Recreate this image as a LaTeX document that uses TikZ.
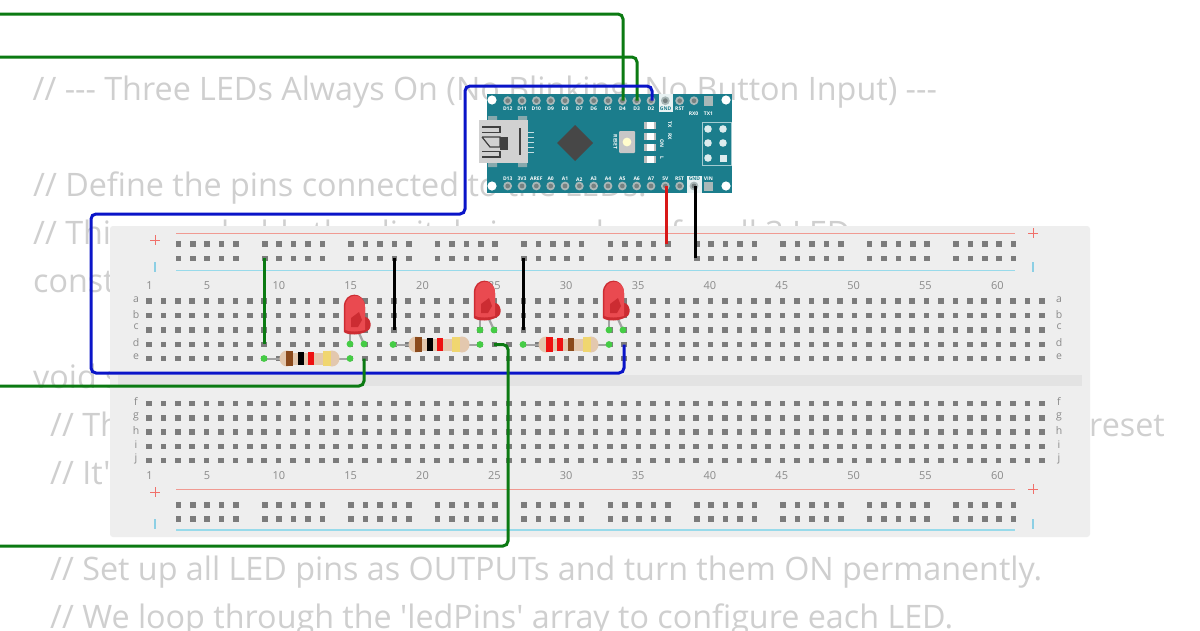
\documentclass[tikz,border=0pt]{standalone}
\usepackage{fontspec}
\setmainfont{Open Sans}[Ligatures=TeXOff]
\usetikzlibrary{shapes}
\definecolor{codegray}{HTML}{CFCFCF}
\definecolor{boardgray}{HTML}{EEEEEE}
\definecolor{slotgray}{HTML}{E3E3E3}
\definecolor{holegray}{HTML}{7C7C7C}
\definecolor{labelgray}{HTML}{8A8A8A}
\definecolor{railred}{HTML}{F09A92}
\definecolor{railblue}{HTML}{98DAEA}
\definecolor{signred}{HTML}{F0706A}
\definecolor{signblue}{HTML}{8CCFE4}
\definecolor{nanoteal}{HTML}{1B7D8C}
\definecolor{pingray}{HTML}{A9B8B8}
\definecolor{wiregreen}{HTML}{0B7A12}
\definecolor{wireblue}{HTML}{0A14C8}
\definecolor{wirered}{HTML}{D81818}
\definecolor{dotgreen}{HTML}{45CC45}
\definecolor{bodytan}{HTML}{E3C8AE}
\definecolor{bandbrown}{HTML}{8B4A1C}
\definecolor{bandred}{HTML}{EE1111}
\definecolor{bandgold}{HTML}{F0D670}
\definecolor{ledred}{HTML}{EA4A50}
\definecolor{leddark}{HTML}{CC2C32}
\begin{document}
\begin{tikzpicture}[
	x=1pt, y=-1pt,
	codeline/.style={anchor=base west, text=codegray, font=\fontsize{32.3}{32.3}\selectfont, inner sep=0pt},
	rowlabel/.style={text=labelgray, font=\fontsize{10.5}{11}\selectfont, inner sep=0pt},
	collabel/.style={text=labelgray, font=\fontsize{11}{11}\selectfont, inner sep=0pt},
	pinlabel/.style={text=white, font=\fontsize{5}{5}\selectfont\bfseries, inner sep=0pt},
	pinbox/.style={fill=white!90!nanoteal, inner sep=0pt},
	sidelabel/.style={text=white, font=\fontsize{5}{5}\selectfont\bfseries, inner sep=0pt, rotate=270},
	wire/.style={line width=3pt, rounded corners=5pt},
	resleg/.style={draw=holegray!70, line width=2pt},
	]
	\useasboundingbox (0,0) rectangle (1200,630);
	\fill[white] (0,0) rectangle (1200,630);

	% Code behind the circuit
	\node[codeline] (line1) at (32.5,100) {// --- Three LEDs Always On (No Blinking, No Button Input) ---};
	\node[codeline] (line2) at (33,196) {// Define the pins connected to the LEDs.};
	\node[codeline] (line3) at (33,244) {// This array holds the digital pin numbers for all 3 LED};
	\node[codeline] (line4) at (33,292) {const};
	\node[codeline] (line5) at (33,388) {void s};
	\node[codeline] (line6) at (50,436) {// Th};
	\node[codeline, anchor=base east] (line6b) at (1165,436) {reset};
	\node[codeline] (line7) at (50,484) {// It'};
	\node[codeline] (line8) at (50,580) {// Set up all LED pins as OUTPUTs and turn them ON permanently.};
	\node[codeline] (line9) at (50,628) {// We loop through the 'ledPins' array to configure each LED.};

	% Breadboard
	\fill[boardgray, rounded corners=3pt] (110,226) rectangle (1090,537);
	\fill[slotgray] (118,375) rectangle (1082,386);

	% Power rails
	\draw[railred, line width=1.4pt] (176,233.5) -- (1015,233.5);
	\draw[railblue, line width=1.4pt] (176,270.5) -- (1015,270.5);
	\draw[railred, line width=1.4pt] (176,489.5) -- (1015,489.5);
	\draw[railblue, line width=1.4pt] (176,530) -- (1015,530);
	\foreach \g in {0,...,9}
		\foreach \h in {0,...,4}
			\foreach \y in {244,258.3,505,519}
				\fill[holegray] ({178.3+86.4*\g+14.4*\h-2.8},\y-2.8) rectangle +(5.6,5.6);

	% Rail signs
	\foreach \x/\y in {155/240,1033/233,155/492,1033/489}
		\draw[signred, line width=1pt] (\x-5,\y) -- (\x+5,\y) (\x,\y-5) -- (\x,\y+5);
	\foreach \x/\y in {155/267,1033/267,155/524,1033/524}
		\draw[signblue, line width=1.2pt] (\x,\y-5) -- (\x,\y+5);

	% Terminal strips
	\foreach \c in {0,...,62}
		\foreach \y in {301,315.3,330,344.3,358.5,403.3,417.7,432,446.3,460.6}
			\fill[holegray] ({149+14.4*\c-2.8},\y-2.8) rectangle +(5.6,5.6);

	% Row letters
	\foreach \t/\y in {a/300,b/315,c/327,d/343,e/357,f/401,g/417,h/431,i/445,j/459} {
		\node[rowlabel] at (136,\y) {\t};
		\node[rowlabel] at (1059,\y) {\t};
	}

	% Column numbers
	\foreach \n in {1,5,10,15,20,25,30,35,40,45,50,55,60} {
		\node[collabel] at ({149.5+14.37*(\n-1)},286) {\n};
		\node[collabel] at ({149.5+14.37*(\n-1)},475.7) {\n};
	}

	% Arduino Nano
	\fill[nanoteal] (487,93.5) rectangle (732,193);
	\foreach \x/\y in {492/100,726/100,492/186,726/186}
		\fill[white] (\x,\y) circle (4.6);
	\node[pinbox, minimum width=14pt, minimum height=18pt] (gndtop) at (665.6,103) {};
	\node[pinbox, minimum width=15pt, minimum height=17pt] (gndbot) at (694.5,184) {};
	\foreach \c in {0,...,13} {
		\fill[pingray] ({507.7+14.33*\c},100.7) circle (4.4);
		\fill[pingray!70!black] ({507.7+14.33*\c},100.7) circle (2.4);
		\fill[pingray] ({507.7+14.33*\c},186) circle (4.4);
		\fill[pingray!70!black] ({507.7+14.33*\c},186) circle (2.4);
	}
	\fill[pingray] (703.6,96.2) rectangle +(9.4,9.4);
	\fill[pingray] (703.6,181.5) rectangle +(9.4,9.4);
	\foreach \t [count=\i from 0] in {D12,D11,D10,D9,D8,D7,D6,D5,D4,D3,D2}
		\node[pinlabel] at ({507.7+14.33*\i},108.3) {\t};
	\node[pinlabel, text=nanoteal] at (665.6,108.3) {GND};
	\node[pinlabel] at (679.7,108.3) {RST};
	\node[pinlabel] at (693.5,114) {RX0};
	\node[pinlabel] at (708.4,114) {TX1};
	\foreach \t [count=\i from 0] in {D13,3V3,AREF,A0,A1,A2,A3,A4,A5,A6,A7,5V,RST}
		\node[pinlabel] at ({507.7+14.33*\i},179.2) {\t};
	\node[pinlabel, text=nanoteal] at (694.5,179.2) {GND};
	\node[pinlabel] at (708.4,179.2) {VIN};

	% USB socket
	\fill[pingray!75!nanoteal] (488,116) rectangle (497,167) (518,116) rectangle (527,167);
	\fill[white!82!black] (479,120) rectangle (528,163);
	\foreach \y in {132,137,142,147,152}
		\draw[white!75!nanoteal, line width=1pt] (528,\y) -- (534,\y);
	\draw[black!75, line width=1.2pt] (482,127) -- (500,127) -- (500,132.5) -- (482,132.5);
	\draw[black!75, line width=1.2pt] (482,151.5) -- (500,151.5) -- (500,157) -- (482,157);
	\draw[black!75, line width=1.2pt] (482,137) -- (500,137) -- (500,147) (482,137) -- (490,147) -- (500,147);
	\fill[black!75] (500,137) rectangle (508,150);
	\draw[black!75, line width=1.2pt] (520,128) -- (520,155);

	% Chip and reset button
	\fill[black!72] (575,125) -- (593,143) -- (575,161) -- (557,143) -- cycle;
	\fill[white!78!black, rounded corners=1pt] (619,131) rectangle (635,153);
	\fill[white!80!yellow] (627,142) circle (4.4);
	\node[sidelabel] (resetlabel) at (615.5,142) {RESET};

	% Small LEDs
	\foreach \y in {125,136.7,147.5,159} {
		\fill[white!75!black] (644,\y-3.5) rectangle (656,\y+3.5);
		\fill[white] (646.5,\y-3.5) rectangle (653.5,\y+3.5);
	}
	\node[sidelabel] (txlabel) at (670,124.5) {TX};
	\node[sidelabel] (rxlabel) at (670,136.5) {RX};
	\node[sidelabel] (onlabel) at (662,144) {ON};
	\node[sidelabel] (llabel) at (662,158) {L};

	% ICSP header
	\draw[white!60!nanoteal, line width=0.8pt] (702,122) rectangle (731,165);
	\foreach \x/\y in {708/129,723/129,708/143,723/143,708/158}
		\fill[white!85!nanoteal] (\x,\y) circle (3.8);
	\fill[white!85!nanoteal] (719.5,154.5) rectangle +(7,7);

	% Resistors
	\foreach \xa/\xb/\y/\pa/\ca/\pb/\cb/\pc/\cc/\pd in {
		264/350/358.5/289/bandbrown/300.6/black/311/bandred/327,
		393/480/344.5/418.7/bandbrown/429.7/black/440/bandred/456,
		523/609/344.5/549/bandred/560/bandred/570.5/bandbrown/587} {
		\draw[resleg] (\xa,\y) -- (\xb,\y);
		\fill[bodytan] (\xa+23,\y-6) rectangle (\xb-18,\y+6);
		\fill[bodytan] (\xa+23,\y) ellipse (7.5 and 8);
		\fill[bodytan] (\xb-18,\y) ellipse (7.5 and 8);
		\fill[\ca] (\pa-3.5,\y-7.5) rectangle (\pa+3.5,\y+7.5);
		\fill[\cb] (\pb-3,\y-6.5) rectangle (\pb+3,\y+6.5);
		\fill[\cc] (\pc-3,\y-6.5) rectangle (\pc+3,\y+6.5);
		\fill[bandgold] (\pd-4,\y-7.5) rectangle (\pd+4,\y+7.5);
	}

	% LEDs
	\foreach \xl/\yl in {350/344,480/330,609/330} {
		\draw[holegray!70, line width=2.2pt] (\xl,\yl-11) -- (\xl,\yl);
		\draw[holegray!70, line width=2.2pt] (\xl+9,\yl-11) -- (\xl+14,\yl);
		\fill[leddark] (\xl-6.2,\yl-12) -- (\xl-6.2,\yl-37) .. controls (\xl-6.2,\yl-53.5) and (\xl+15,\yl-53.5) .. (\xl+15,\yl-37) -- (\xl+15,\yl-27) .. controls (\xl+21,\yl-27) and (\xl+23,\yl-15) .. (\xl+17,\yl-13) .. controls (\xl+10,\yl-8.5) and (\xl-2,\yl-8.5) .. (\xl-6.2,\yl-12) -- cycle;
		\fill[ledred] (\xl-4.7,\yl-14) -- (\xl-4.7,\yl-37) .. controls (\xl-4.7,\yl-52) and (\xl+15,\yl-52) .. (\xl+15,\yl-37) -- (\xl+15,\yl-14) .. controls (\xl+8,\yl-12) and (\xl,\yl-12) .. (\xl-4.7,\yl-14) -- cycle;
		\fill[leddark] (\xl+1,\yl-17) -- (\xl+1,\yl-26) -- (\xl+9,\yl-32) -- (\xl+12,\yl-24) -- (\xl+8,\yl-17) -- cycle;
		\fill[dotgreen] (\xl,\yl) circle (3.4);
		\fill[dotgreen] (\xl+14,\yl) circle (3.4);
	}

	% Resistor lead dots
	\foreach \x/\y in {264/358.5,350/358.5,393/344.5,480/344.5,523/344.5,609/344.5}
		\fill[dotgreen] (\x,\y) circle (3.4);

	% Wire ends
	\coordinate (d4) at (623,100.7);
	\coordinate (d3) at (637,100.7);
	\coordinate (d2) at (652,100.7);
	\coordinate (fivev) at (666,186);
	\coordinate (gndpin) at (695,186);
	\coordinate (railplus) at (666,244);
	\coordinate (railminus) at (695,258.3);
	\coordinate (leftA) at (0,14);
	\coordinate (leftB) at (0,57);
	\coordinate (leftC) at (0,386);
	\coordinate (leftD) at (0,546);
	\coordinate (ledOne) at (364,358.5);
	\coordinate (ledTwo) at (494,344.5);
	\coordinate (ledTurn) at (508,546);
	\coordinate (ledThree) at (624,344.5);
	\coordinate (blueA) at (465,86);
	\coordinate (blueB) at (91,214);
	\coordinate (blueC) at (624,373);
	\coordinate (jumpGreenA) at (264,258.3);
	\coordinate (jumpGreenB) at (264,344.3);
	\coordinate (jumpBlackA) at (394,258.3);
	\coordinate (jumpBlackB) at (394,330);
	\coordinate (jumpBlackC) at (523.5,258.3);
	\coordinate (jumpBlackD) at (523.5,330);

	% Wires
	\draw[wire, wiregreen] (leftA) -| (d4);
	\draw[wire, wiregreen] (leftB) -| (d3);
	\draw[wire, wireblue] (d2) |- (blueA) |- (blueB) |- (blueC) -- (ledThree);
	\draw[wire, wiregreen] (leftC) -| (ledOne);
	\draw[wire, wiregreen] (leftD) -- (ledTurn) |- (ledTwo);
	\draw[wire, wirered] (fivev) -- (railplus);
	\draw[wire, black] (gndpin) -- (railminus);
	\draw[wire, wiregreen] (jumpGreenA) -- (jumpGreenB);
	\draw[wire, black] (jumpBlackA) -- (jumpBlackB);
	\draw[wire, black] (jumpBlackC) -- (jumpBlackD);

\end{tikzpicture}
\end{document}
